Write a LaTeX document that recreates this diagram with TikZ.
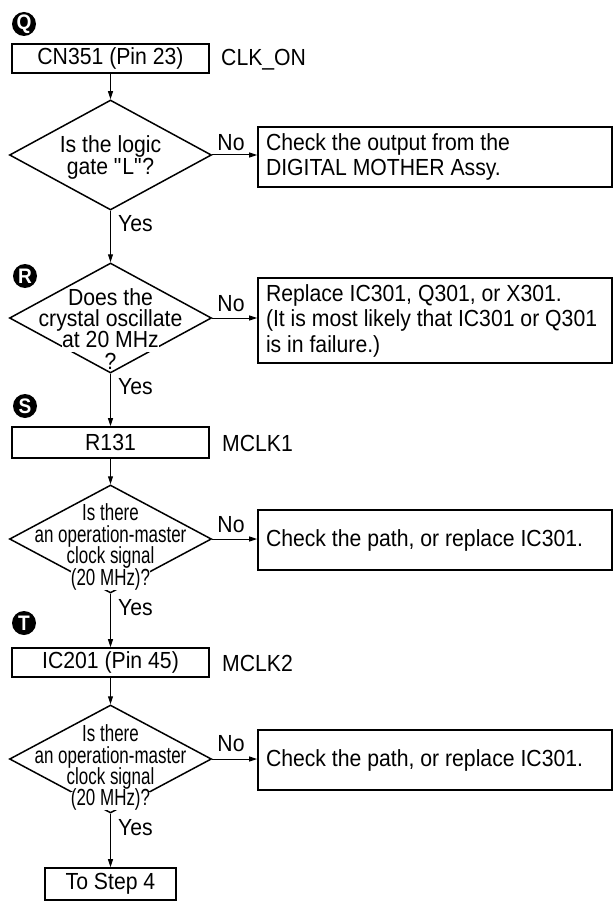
\documentclass[tikz,border=0pt]{standalone}
\usepackage{fontspec}
\usepackage{graphicx}
\setmainfont{Liberation Sans}[FakeStretch=0.91]
\usetikzlibrary{arrows.meta,shapes.geometric}
\begin{document}
\begin{tikzpicture}[x=1pt,y=-1pt,
  every node/.style={font=\fontsize{23.3}{25.5}\selectfont},
  box/.style={draw,line width=1.8pt,rectangle,inner sep=0pt},
  wbox/.style={box,minimum width=354pt,text width=338pt,align=flush left},
  dia/.style={draw,line width=1.5pt,diamond,inner sep=0pt,minimum width=202pt},
  arr/.style={line width=1pt,-{Triangle[length=8pt,width=5pt]}},
  lbl/.style={inner sep=0pt},
  dl/.style={inner sep=0pt,anchor=base,text height=13pt,text depth=3pt},
  dlw/.style={inner sep=0pt,anchor=base,text height=14pt,text depth=4.5pt,fill=white},
  badge/.style={circle,fill=black,text=white,inner sep=0pt,minimum size=24pt,font=\fontsize{21}{21}\selectfont\bfseries}
]
\useasboundingbox (0,0) rectangle (613,909);

% ---- Q ----
\node[badge] (bQ) at (24,24) {Q};
\node[box,minimum width=197pt,minimum height=29pt] (b1) at (110.5,58.5) {CN351 (Pin 23)};
\node[lbl,anchor=west] (s1) at (221,59.5) {CLK\_ON};
\node[dia,minimum height=110pt] (d1) at (110.5,155) {};
\node[dl] (d1a) at (110.5,153) {Is the logic};
\node[dl] (d1b) at (110.5,175) {gate \textquotedbl L\textquotedbl ?};
\node[wbox,minimum height=60pt] (c1) at (435,157) {Check the output from the\\DIGITAL MOTHER Assy.};
\node[lbl] (n1) at (231,143) {No};
\node[lbl,anchor=west] (y1) at (118,224) {Yes};
\draw[arr] (b1.south) -- (d1.north);
\draw[arr] (d1.east) -- (d1.east -| c1.west);

% ---- R ----
\node[badge] (bR) at (25,276) {R};
\node[dia,minimum height=110pt] (d2) at (110.5,318) {};
\node[dl] (d2a) at (110.5,305) {Does the};
\node[dl] (d2b) at (110.5,326) {crystal oscillate};
\node[dlw] (d2c) at (110.5,347.5) {at 20 MHz};
\node[dl] (d2d) at (110.5,369) {?};
\node[wbox,minimum height=85pt] (c2) at (435,320.5) {Replace IC301, Q301, or X301.\\(It~is~most~likely~that~IC301~or~Q301\\is in failure.)};
\node[lbl] (n2) at (231,304) {No};
\node[lbl,anchor=west] (y2) at (118,387) {Yes};
\draw[arr] (d1.south) -- (d2.north);
\draw[arr] (d2.east) -- (d2.east -| c2.west);

% ---- S ----
\node[badge] (bS) at (25,406) {S};
\node[box,minimum width=197pt,minimum height=31pt] (b2) at (110.5,442.5) {R131};
\node[lbl,anchor=west] (s2) at (222,443) {MCLK1};
\node[dia,minimum height=108pt] (d3) at (110.5,539) {};
\node[dl] (d3a) at (110.5,520) {\scalebox{0.8}[1]{Is there}};
\node[dl] (d3b) at (110.5,542.5) {\scalebox{0.8}[1]{an operation-master}};
\node[dl] (d3c) at (110.5,563.5) {\scalebox{0.8}[1]{clock signal}};
\node[dlw] (d3d) at (110.5,585) {\scalebox{0.8}[1]{(20 MHz)?}};
\node[wbox,minimum height=60pt] (c3) at (435,540) {Check the path, or replace IC301.};
\node[lbl] (n3) at (231,525) {No};
\node[lbl,anchor=west] (y3) at (118,608) {Yes};
\draw[arr] (d2.south) -- (b2.north);
\draw[arr] (b2.south) -- (d3.north);
\draw[arr] (d3.east) -- (d3.east -| c3.west);

% ---- T ----
\node[badge] (bT) at (24,623) {T};
\node[box,minimum width=197pt,minimum height=29pt] (b3) at (110.5,662.5) {IC201 (Pin 45)};
\node[lbl,anchor=west] (s3) at (222,663) {MCLK2};
\node[dia,minimum height=108pt] (d4) at (110.5,759) {};
\node[dl] (d4a) at (110.5,741) {\scalebox{0.8}[1]{Is there}};
\node[dl] (d4b) at (110.5,763) {\scalebox{0.8}[1]{an operation-master}};
\node[dl] (d4c) at (110.5,784) {\scalebox{0.8}[1]{clock signal}};
\node[dlw] (d4d) at (110.5,805.5) {\scalebox{0.8}[1]{(20 MHz)?}};
\node[wbox,minimum height=60pt] (c4) at (435,760) {Check the path, or replace IC301.};
\node[lbl] (n4) at (231,744) {No};
\node[lbl,anchor=west] (y4) at (118,828) {Yes};
\node[box,minimum width=131pt,minimum height=32pt] (b4) at (110.5,884) {To Step 4};
\draw[arr] (d3.south) -- (b3.north);
\draw[arr] (b3.south) -- (d4.north);
\draw[arr] (d4.east) -- (d4.east -| c4.west);
\draw[arr] (d4.south) -- (b4.north);
\end{tikzpicture}
\end{document}
